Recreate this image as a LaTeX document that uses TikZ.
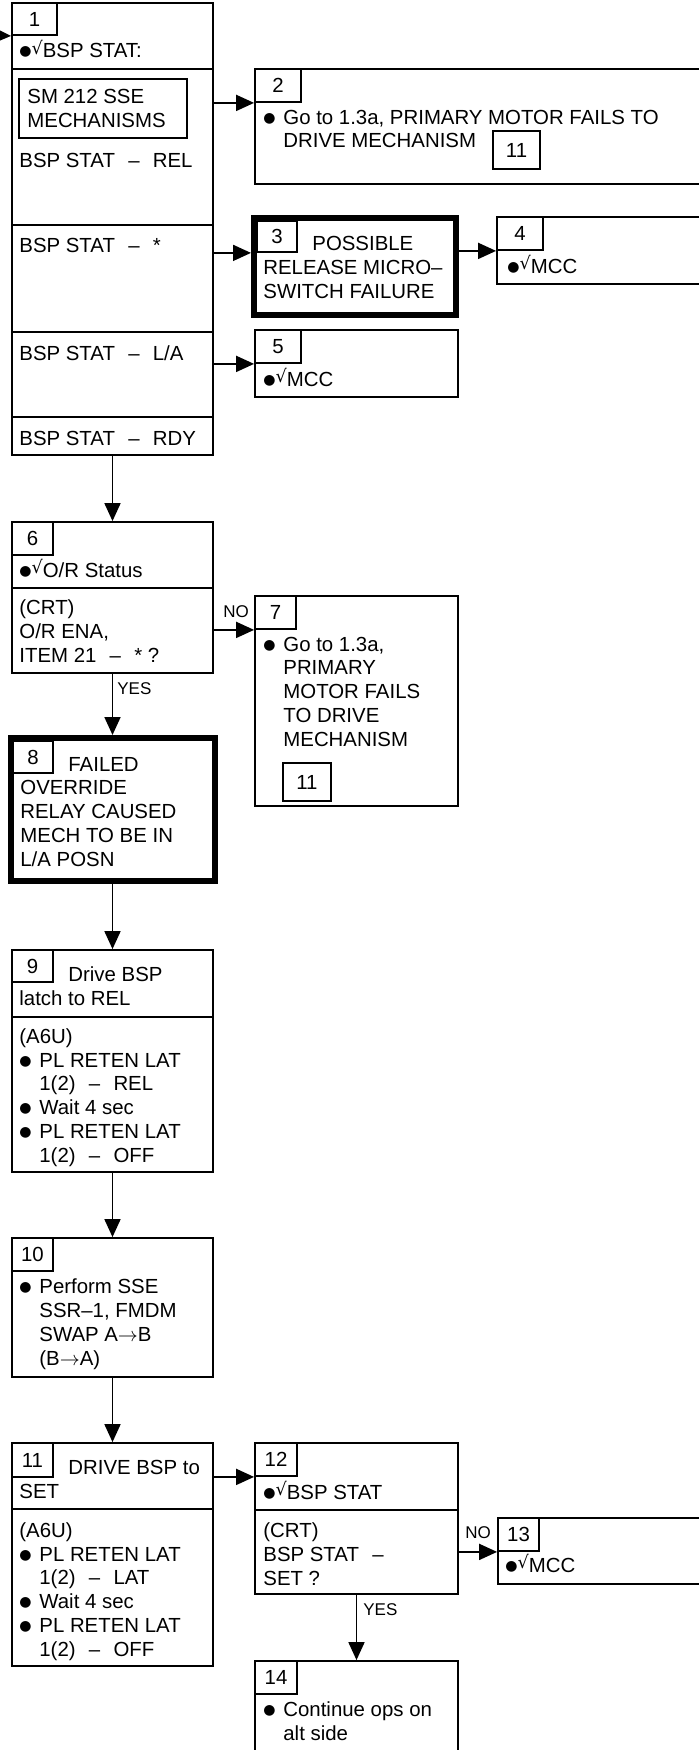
\documentclass[tikz,border=0pt]{standalone}
\usepackage{fontspec}
\setmainfont{Liberation Sans}
\newfontfamily\dvfont{DejaVu Sans}
\usetikzlibrary{arrows.meta,fit}

% bullet, check mark, dash and indents used in the step texts
\newcommand{\blt}{\raisebox{1pt}{\dvfont\fontsize{7}{7}\selectfont ●}}
\newcommand{\chk}{\blt\raisebox{1.6pt}{\dvfont\fontsize{8.8}{8.8}\selectfont √}}
\newcommand{\itm}{\makebox[10pt][l]{\blt}}
\newcommand{\ind}{\hspace*{10pt}}
\newcommand{\dsh}{\hspace{0.65em}–\hspace{0.65em}}

\tikzset{
  box/.style={draw, line width=0.9pt, inner sep=0pt},
  heavybox/.style={draw, line width=3pt, inner sep=0pt},
  numbox/.style={draw, line width=0.9pt, inner sep=0pt,
    label={[font=\fontsize{10.2}{12}\selectfont, inner sep=0pt]center:#1}},
  txt/.style={anchor=base west, inner sep=0pt, align=left, font=\fontsize{10.2}{11.85}\selectfont},
  yesno/.style={anchor=base west, inner sep=0pt, font=\fontsize{8.5}{10}\selectfont},
  arr/.style={line width=0.9pt, -{Triangle[length=9pt,width=8pt]}},
}

\begin{document}
\begin{tikzpicture}[x=0.5pt, y=-0.5pt]
  \useasboundingbox (0,0) rectangle (698,1750);

  % step 1 with its four outcomes (text nodes sit on their last baseline)
  \node[box, fit={(12,3) (213,69)}] (b1h) {};
  \node[box, fit={(12,69) (213,225)}] (b1a) {};
  \node[box, fit={(12,225) (213,332)}] (b1b) {};
  \node[box, fit={(12,332) (213,417)}] (b1c) {};
  \node[box, fit={(12,417) (213,455)}] (b1d) {};
  \node[numbox=1, fit={(12,3) (57,35)}] (n1) {};
  \node[txt] (t1) at (19,58) {\chk BSP STAT:};
  \node[box, fit={(19,79) (187,138)}] (sm) {};
  \node[txt] (smtxt) at (27,127) {SM 212 SSE\\MECHANISMS};
  \node[txt] (t1a) at (19,167) {BSP STAT\dsh REL};
  \node[txt] (t1b) at (19,252) {BSP STAT\dsh *};
  \node[txt] (t1c) at (19,360) {BSP STAT\dsh L/A};
  \node[txt] (t1d) at (19,445) {BSP STAT\dsh RDY};
  \coordinate (in1) at (-20,35);

  % steps 2 to 5
  \node[box, fit={(255,69) (720,184)}] (b2) {};
  \node[numbox=2, fit={(255,69) (301,102)}] (n2) {};
  \node[txt] (t2) at (263,148) {\itm Go to 1.3a, PRIMARY MOTOR FAILS TO\\\ind DRIVE MECHANISM};
  \node[numbox=11, fit={(493,131) (540,169)}] (r2) {};

  \node[heavybox, fit={(254,218) (456,315)}] (b3) {};
  \node[numbox=3, fit={(257,221) (297,252)}] (n3) {};
  \node[txt] (t3) at (263,298) {\hspace*{24.5pt}POSSIBLE\\RELEASE MICRO–\\SWITCH FAILURE};

  \node[box, fit={(497,217) (720,284)}] (b4) {};
  \node[numbox=4, fit={(497,217) (543,250)}] (n4) {};
  \node[txt] (t4) at (507,273) {\chk MCC};

  \node[box, fit={(255,330) (458,397)}] (b5) {};
  \node[numbox=5, fit={(255,330) (301,363)}] (n5) {};
  \node[txt] (t5) at (263,386) {\chk MCC};

  % steps 6 to 8
  \node[box, fit={(12,522) (213,588)}] (b6h) {};
  \node[box, fit={(12,588) (213,673)}] (b6b) {};
  \node[numbox=6, fit={(12,522) (53,555)}] (n6) {};
  \node[txt] (t6) at (19,577) {\chk O/R Status};
  \node[txt] (t6b) at (19,662) {(CRT)\\O/R ENA,\\ITEM 21\dsh * ?};

  \node[box, fit={(255,596) (458,806)}] (b7) {};
  \node[numbox=7, fit={(255,596) (296,629)}] (n7) {};
  \node[txt] (t7) at (263,746) {\itm Go to 1.3a,\\\ind PRIMARY\\\ind MOTOR FAILS\\\ind TO DRIVE\\\ind MECHANISM};
  \node[numbox=11, fit={(283,763) (331,801)}] (r7) {};

  \node[heavybox, fit={(10.5,738) (214.5,881)}] (b8) {};
  \node[numbox=8, fit={(13,741) (53,773)}] (n8) {};
  \node[txt] (t8) at (20,866) {\hspace*{24pt}FAILED\\OVERRIDE\\RELAY CAUSED\\MECH TO BE IN\\L/A POSN};

  % steps 9 and 10
  \node[box, fit={(12,950) (213,1017)}] (b9h) {};
  \node[box, fit={(12,1017) (213,1172)}] (b9b) {};
  \node[numbox=9, fit={(12,950) (53,982)}] (n9) {};
  \node[txt] (t9) at (19,1005) {\hspace*{24.5pt}Drive BSP\\latch to REL};
  \node[txt] (t9b) at (19,1162) {(A6U)\\\itm PL RETEN LAT\\\ind 1(2)\dsh REL\\\itm Wait 4 sec\\\itm PL RETEN LAT\\\ind 1(2)\dsh OFF};

  \node[box, fit={(12,1238) (213,1377)}] (b10) {};
  \node[numbox=10, fit={(12,1238) (53,1271)}] (n10) {};
  \node[txt] (t10) at (19,1365) {\itm Perform SSE\\\ind SSR–1, FMDM\\\ind SWAP A$\rightarrow$B\\\ind (B$\rightarrow$A)};

  % steps 11 to 14
  \node[box, fit={(12,1443) (213,1509)}] (b11h) {};
  \node[box, fit={(12,1509) (213,1666)}] (b11b) {};
  \node[numbox=11, fit={(12,1443) (53,1477)}] (n11) {};
  \node[txt] (t11) at (19,1498) {\hspace*{24.5pt}DRIVE BSP to\\SET};
  \node[txt] (t11b) at (19,1656) {(A6U)\\\itm PL RETEN LAT\\\ind 1(2)\dsh LAT\\\itm Wait 4 sec\\\itm PL RETEN LAT\\\ind 1(2)\dsh OFF};

  \node[box, fit={(255,1443) (458,1510)}] (b12h) {};
  \node[box, fit={(255,1510) (458,1594)}] (b12b) {};
  \node[numbox=12, fit={(255,1443) (297,1476)}] (n12) {};
  \node[txt] (t12) at (263,1499) {\chk BSP STAT};
  \node[txt] (t12b) at (263,1585) {(CRT)\\BSP STAT\dsh\\SET ?};

  \node[box, fit={(498,1518) (720,1584)}] (b13) {};
  \node[numbox=13, fit={(498,1518) (539,1551)}] (n13) {};
  \node[txt] (t13) at (505,1572) {\chk MCC};

  \node[box, fit={(255,1661) (458,1780)}] (b14) {};
  \node[numbox=14, fit={(255,1661) (297,1694)}] (n14) {};
  \node[txt] (t14) at (263,1740) {\itm Continue ops on\\\ind alt side};

  % branch labels
  \node[yesno] (no1) at (223,617) {NO};
  \node[yesno] (yes1) at (117,694) {YES};
  \node[yesno] (no2) at (465,1538) {NO};
  \node[yesno] (yes2) at (363,1615) {YES};

  % connectors
  \draw[arr] (in1) -- (n1.south west);
  \draw[arr] (b1a.east |- n2.south west) -- (n2.south west);
  \draw[arr] (b1b.east |- n3.south west) -- (b3.west |- n3.south west);
  \draw[arr] (b3.east |- n4.south west) -- (n4.south west);
  \draw[arr] (b1c.east |- n5.south west) -- (n5.south west);
  \draw[arr] (b1d.south) -- (b6h.north);
  \draw[arr] (b6b.east |- n7.south west) -- (n7.south west);
  \draw[arr] (b6b.south) -- (b8.north);
  \draw[arr] (b8.south) -- (b9h.north);
  \draw[arr] (b9b.south) -- (b10.north);
  \draw[arr] (b10.south) -- (b11h.north);
  \draw[arr] (b11h.east |- n12.south west) -- (n12.south west);
  \draw[arr] (b12b.east |- n13.south west) -- (n13.south west);
  \draw[arr] (b12b.south) -- (b14.north);
\end{tikzpicture}
\end{document}
